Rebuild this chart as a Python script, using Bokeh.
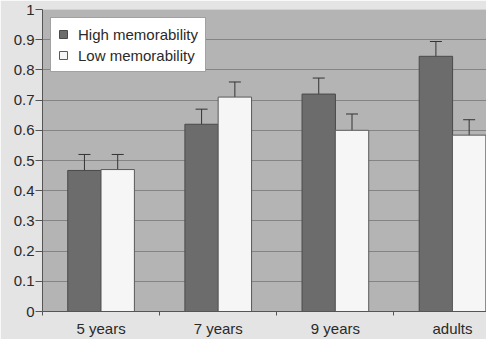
from bokeh.plotting import figure
from bokeh.models import (Range1d, FixedTicker, CustomJSTickFormatter, ColumnDataSource,
                          Whisker, TeeHead)
from bokeh.embed import file_html
from bokeh.resources import INLINE

categories = ["5 years", "7 years", "9 years", "adults"]
series_names = ["High memorability", "Low memorability"]
high_mean = [0.467, 0.62, 0.72, 0.845]
high_upper = [0.52, 0.67, 0.773, 0.894]
high_lower = [0.417, 0.57, 0.67, 0.79]
low_mean = [0.47, 0.71, 0.60, 0.584]
low_upper = [0.52, 0.76, 0.654, 0.635]
low_lower = [0.42, 0.66, 0.55, 0.537]
y_ticks = [0, 0.1, 0.2, 0.3, 0.4, 0.5, 0.6, 0.7, 0.8, 0.9, 1.0]

FONT = "Liberation Sans"
TXT = "#2a2a2a"
BAR_W = 0.285
OFF = 0.142

idx = list(range(len(categories)))
centers = [i + 0.5 for i in idx]

src_high = ColumnDataSource(dict(x=[c - OFF for c in centers], top=high_mean,
                                 upper=high_upper, lower=high_lower))
src_low = ColumnDataSource(dict(x=[c + OFF for c in centers], top=low_mean,
                                upper=low_upper, lower=low_lower))

p = figure(width=486, height=339, x_range=Range1d(0, 3.79), y_range=Range1d(0, 1),
           output_backend="svg", toolbar_location=None,
           min_border_left=42, min_border_right=0, min_border_top=9, min_border_bottom=10)

p.background_fill_color = "#b4b4b4"
p.border_fill_color = "#e4e4e4"
p.outline_line_color = None

p.xgrid.grid_line_color = None
p.ygrid.grid_line_color = "#848484"
p.ygrid.grid_line_width = 1
p.yaxis.ticker = FixedTicker(ticks=y_ticks)

p.vbar(x="x", top="top", width=BAR_W, bottom=0, source=src_high,
       fill_color="#6c6c6c", line_color="#4a4a4a", line_width=1,
       legend_label=series_names[0])
p.vbar(x="x", top="top", width=BAR_W, bottom=0, source=src_low,
       fill_color="#f6f6f6", line_color="#5a5a5a", line_width=1,
       legend_label=series_names[1])

for src in (src_high, src_low):
    w = Whisker(source=src, base="x", upper="upper", lower="lower",
                line_color="#333333", line_width=1,
                upper_head=TeeHead(size=12, line_color="#333333", line_width=1),
                lower_head=TeeHead(size=12, line_color="#333333", line_width=1))
    p.add_layout(w)

# y axis
p.yaxis.formatter = CustomJSTickFormatter(code="return Number(tick.toFixed(1)).toString();")
p.yaxis.major_tick_out = 7
p.yaxis.major_tick_in = 0
p.yaxis.minor_tick_line_color = None
p.yaxis.major_label_standoff = 1
p.yaxis.axis_line_color = "#555555"
p.yaxis.major_tick_line_color = "#555555"

# x axis: labels at centers, ticks at boundaries (as minor ticks)
p.xaxis.ticker = FixedTicker(ticks=centers, minor_ticks=idx)
p.xaxis.formatter = CustomJSTickFormatter(args=dict(labels=categories),
                                          code="return labels[Math.floor(tick)];")
p.xaxis.major_tick_line_color = None
p.xaxis.major_tick_out = 0
p.xaxis.minor_tick_out = 4
p.xaxis.minor_tick_in = 0
p.xaxis.minor_tick_line_color = "#555555"
p.xaxis.axis_line_color = "#555555"
p.xaxis.major_label_standoff = 4

for ax in (p.xaxis, p.yaxis):
    ax.major_label_text_font = FONT
    ax.major_label_text_font_size = "15px"
    ax.major_label_text_color = TXT

leg = p.legend[0]
leg.location = "top_left"
leg.margin = 8
leg.padding = 7
leg.spacing = 3
leg.label_height = 18
leg.glyph_width = 10
leg.glyph_height = 10
leg.label_standoff = 10
leg.label_text_font = FONT
leg.label_text_font_size = "15px"
leg.label_text_color = TXT
leg.border_line_color = "#444444"
leg.border_line_width = 1
leg.background_fill_color = "#ffffff"
leg.background_fill_alpha = 1.0

open("out.html", "w").write(file_html(p, INLINE))
